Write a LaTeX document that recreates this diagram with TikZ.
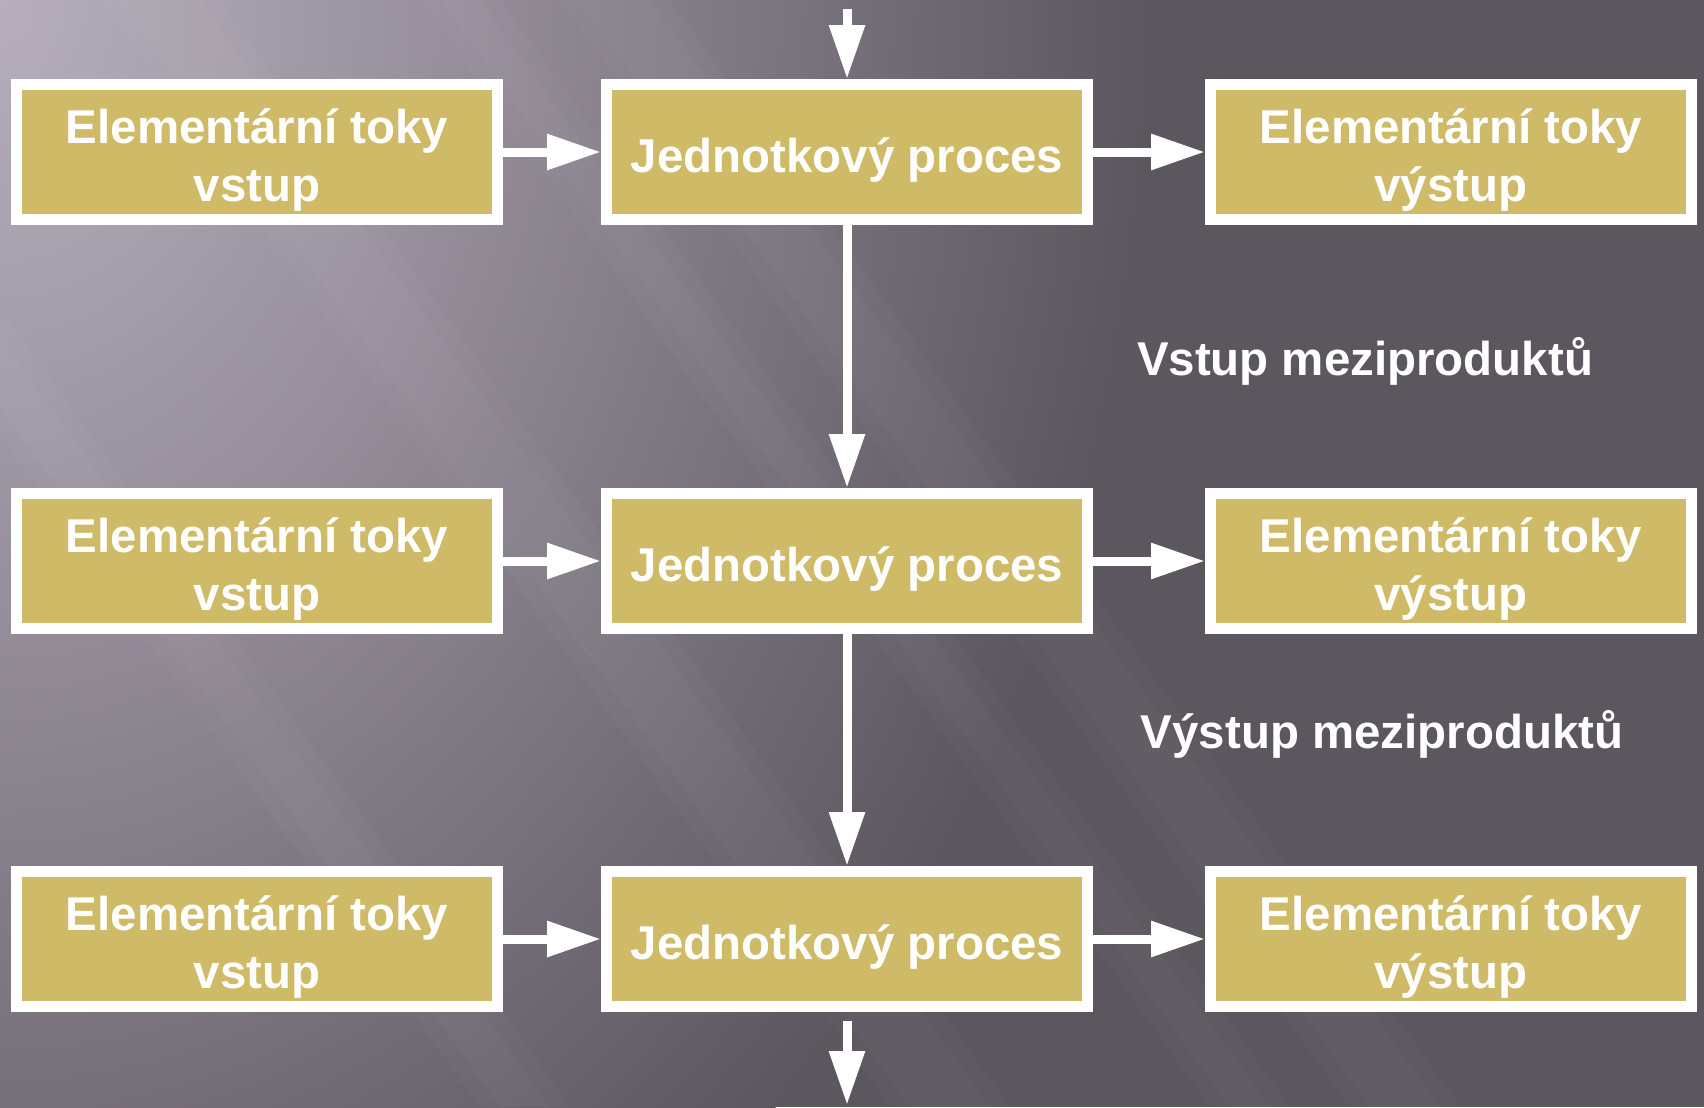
\documentclass[tikz,border=0pt]{standalone}
\usepackage{fontspec}
\setmainfont{Liberation Sans}
\usetikzlibrary{arrows.meta}

\definecolor{gold}{RGB}{207,186,104}
\definecolor{bgdark}{RGB}{92,86,95}
\definecolor{bgmid}{RGB}{150,143,155}
\definecolor{bglight}{RGB}{182,174,188}

\pgfdeclareradialshading{bgglow}{\pgfpoint{0bp}{0bp}}{color(0bp)=(bglight); color(10bp)=(bgmid);
  color(25bp)=(bgdark); color(50bp)=(bgdark)}
\newcommand{\boxstrut}{\rule{0pt}{0.51cm}}

\begin{document}
\begin{tikzpicture}
% background
\useasboundingbox (0,0) rectangle (17.04,11.07);
\fill[bgdark] (0,0) rectangle (17.04,11.07);
\begin{scope}
  \clip (0,0) rectangle (17.04,11.07);
  \shade[shading=bgglow] (0,11.07) ellipse (11.5 and 15);
  % light streaks
  \foreach \x/\w in {-3.1/0.9, 1.0/1.2, 4.2/0.8, 5.6/1.1} {
    \fill[white, opacity=0.025] (\x,11.07) -- (\x+\w,11.07) -- (\x+\w+7.9,0) -- (\x+7.9,0) -- cycle;
    \fill[white, opacity=0.025] (\x+0.2,11.07) -- (\x+\w-0.2,11.07) -- (\x+\w+7.7,0) -- (\x+8.1,0) -- cycle;
  }
\end{scope}

\begin{scope}[every node/.style={rectangle,draw=white,fill=gold,line width=0.11cm,
              minimum width=4.81cm,minimum height=1.35cm,inner sep=0pt,
              align=center,text=white,font=\fontsize{13.5}{16.3}\selectfont\bfseries}]
    \node (V1) at (2.57,9.55) {\boxstrut Elementární toky\\vstup};
    \node (P1) at (8.47,9.55) {\boxstrut Jednotkový proces};
    \node (O1) at (14.51,9.55) {\boxstrut Elementární toky\\výstup};

    \node (V2) at (2.57,5.46) {\boxstrut Elementární toky\\vstup};
    \node (P2) at (8.47,5.46) {\boxstrut Jednotkový proces};
    \node (O2) at (14.51,5.46) {\boxstrut Elementární toky\\výstup};

    \node (V3) at (2.57,1.68) {\boxstrut Elementární toky\\vstup};
    \node (P3) at (8.47,1.68) {\boxstrut Jednotkový proces};
    \node (O3) at (14.51,1.68) {\boxstrut Elementární toky\\výstup};
\end{scope}

\begin{scope}[every node/.style={text=white,font=\fontsize{13.5}{16.3}\selectfont\bfseries}]
    \node[anchor=base] (VM) at (13.65,7.32) {Vstup meziproduktů};
    \node[anchor=base] (YM) at (13.82,3.59) {Výstup meziproduktů};
\end{scope}

\coordinate (top) at (8.47,10.98);
\coordinate (out) at (8.47,0.86);
\coordinate (end) at (8.47,0.02);

\begin{scope}[>={Triangle[length=0.54cm,width=0.34cm]},
              every edge/.style={draw=white,line width=0.09cm}]
              \path [->] (top) edge (P1);
              \path [->] (V1) edge (P1);
              \path [->] (P1) edge (O1);
              \path [->] (P1) edge (P2);
              \path [->] (V2) edge (P2);
              \path [->] (P2) edge (O2);
              \path [->] (P2) edge (P3);
              \path [->] (V3) edge (P3);
              \path [->] (P3) edge (O3);
              \path [->] (out) edge (end);
\end{scope}
\end{tikzpicture}
\end{document}
